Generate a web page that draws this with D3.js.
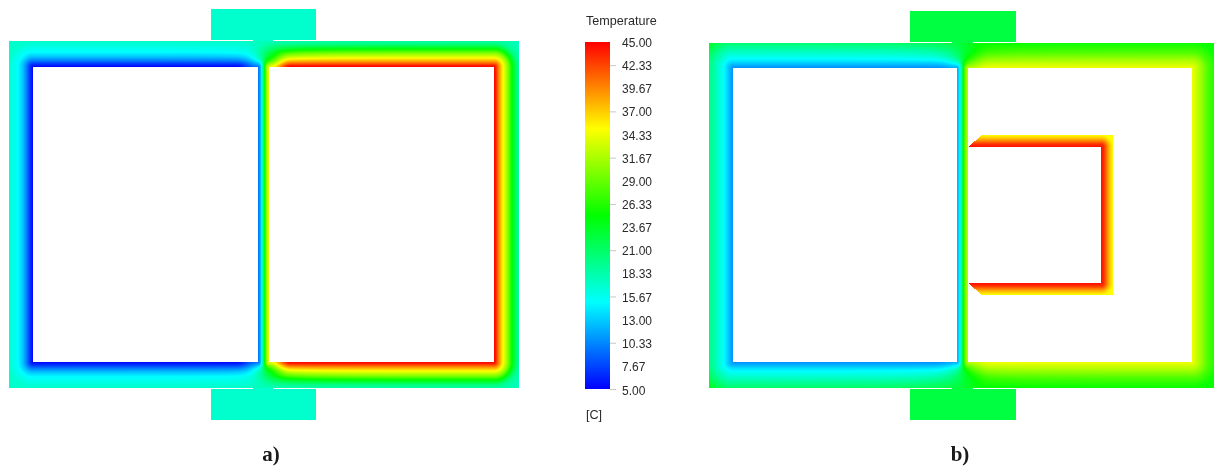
<!DOCTYPE html>
<html><head><meta charset="utf-8">
<script src="https://cdnjs.cloudflare.com/ajax/libs/d3/7.8.5/d3.min.js"></script>
<style>
html,body{margin:0;padding:0;background:#fff;overflow:hidden}
#wrap{position:relative;width:1214px;height:469px}
canvas{position:absolute;left:0;top:0;filter:blur(0.6px)}
svg{position:absolute;left:0;top:0;filter:blur(0.3px)}
</style></head><body><div id="wrap"></div>
<script>
// ---- data ----
const legendTitle = "Temperature";
const legendUnit = "[C]";
const legendLabels = [45.00,42.33,39.67,37.00,34.33,31.67,29.00,26.33,23.67,21.00,18.33,15.67,13.00,10.33,7.67,5.00];
const legendMarked = [42.33,37.00,31.67,26.33,21.00,15.67,10.33,5.00];
const colorTemps = [5,15,25,35,45];
const colorValues = ["#0000ff","#00ffff","#00ff00","#ffff00","#ff0000"];

// temperature vs. distance (px) from a cavity wall
const distA = [0,3,6.5,10,15,20,25,40];
const coldA = [5,7,10,12.5,15,16,17,17];
const distAh = [0,1.5,5,9,14,18,23,25,30,40];
const hotA  = [45,44,39.5,35,30,25,20,19,18,17];
const distB = [0,4,8,12,18,25,35];
const coldB = [10.5,12.5,14.5,16,18,20.5,24];
const distBh = [0,8,16,25,35];
const hotB  = [34.5,31.5,28,25.5,25];
const distBox = [0,3,6,9,12];
const tempBox = [44.5,43,40,37,35];
const tabTempA = 17, tabTempB = 22.5;

// ---- layout ----
const W = 1214, H = 469;
const panels = [
 {name:"a)", labelX:271, outer:[9,41,519,388], left:[33,67,258,362], right:[269,67,494,362],
  tabX:[211,316], tabY:[[9,40],[389,420]], neck:[253,273], base:tabTempA,
  cold:d3.scaleLinear(distA,coldA).clamp(true), hot:d3.scaleLinear(distAh,hotA).clamp(true),
  coldWall:0.62, hotWall:0.6},
 {name:"b)", labelX:960, outer:[709,43,1214,388], left:[733,68,957,362], right:[968,68,1192,362],
  tabX:[910,1016], tabY:[[11,42],[389,420]], neck:[952,973], base:tabTempB,
  cold:d3.scaleLinear(distB,coldB).clamp(true), hot:d3.scaleLinear(distBh,hotB).clamp(true),
  coldWall:0.9, hotWall:0.8,
  box:[968,147,1101,283],
  halo:[[968,147],[982,135],[1113,135],[1113,295],[982,295],[968,283]],
  boxTemp:d3.scaleLinear(distBox,tempBox).clamp(true)}
];

const color = d3.scaleLinear(colorTemps,colorValues).interpolate(d3.interpolateRgb).clamp(true);
const lut = d3.range(0,401).map(i=>d3.rgb(color(5+i/10)));

const rectDist=(r,x,y)=>{const dx=Math.max(r[0]-x,0,x-r[2]),dy=Math.max(r[1]-y,0,y-r[3]);return Math.hypot(dx,dy);};
const inside=(r,x,y)=>x>=r[0]&&x<r[2]&&y>=r[1]&&y<r[3];
const fade=t=>{t=Math.max(0,Math.min(1,t));return t*t*(3-2*t);};

const canvas = d3.select("#wrap").append("canvas").attr("width",W).attr("height",H).node();
const ctx = canvas.getContext("2d");
ctx.fillStyle="#fff";ctx.fillRect(0,0,W,H);
const img = ctx.getImageData(0,0,W,H);

function field(p,x,y){
  const dL=rectDist(p.left,x,y), dR=rectDist(p.right,x,y);
  const fL=p.coldWall+(1-p.coldWall)*fade((dR-11)/22);
  const fR=p.hotWall+(1-p.hotWall)*fade((dL-11)/22);
  const aL=(p.cold(dL)-p.base)*fL, aR=(p.hot(dR)-p.base)*fR;
  const wL=1/Math.pow(dL+0.5,2), wR=1/Math.pow(dR+0.5,2);
  return p.base+(wL*aL+wR*aR)/(wL+wR);
}
function plot(x,y,t){
  const c=lut[Math.round((Math.max(5,Math.min(45,t))-5)*10)], i=(y*W+x)*4;
  img.data[i]=c.r;img.data[i+1]=c.g;img.data[i+2]=c.b;img.data[i+3]=255;
}
panels.forEach(p=>{
  const [x0,y0,x1,y1]=p.outer;
  for(let y=y0;y<y1;y++)for(let x=x0;x<Math.min(x1,W);x++){
    const px=x+.5,py=y+.5;
    if(inside(p.left,px,py))continue;
    if(inside(p.right,px,py)){
      if(p.box&&!inside(p.box,px,py)&&d3.polygonContains(p.halo,[px,py]))
        plot(x,y,p.boxTemp(rectDist(p.box,px,py)));
      continue;
    }
    plot(x,y,field(p,px,py));
  }
  p.tabY.forEach(([a,b])=>{
    for(let y=a;y<b;y++)for(let x=p.tabX[0];x<p.tabX[1];x++)plot(x,y,p.base);
  });
  [y0-1,y1].forEach(y=>{
    for(let x=p.neck[0];x<p.neck[1];x++)plot(x,y,p.base);
  });
});
ctx.putImageData(img,0,0);

// ---- legend and captions ----
const svg=d3.select("#wrap").append("svg").attr("width",W).attr("height",H);
const barX=585,barW=25,barTop=42,barBottom=389;
const y=d3.scaleLinear([5,45],[barBottom,barTop]);
const grad=svg.append("defs").append("linearGradient").attr("id","ramp")
  .attr("x1",0).attr("x2",0).attr("y1",1).attr("y2",0);
grad.selectAll("stop").data(colorTemps).join("stop")
  .attr("offset",d=>(d-5)/40).attr("stop-color",d=>color(d));
svg.append("rect").attr("x",barX).attr("y",barTop).attr("width",barW).attr("height",barBottom-barTop).attr("fill","url(#ramp)");

const axis=d3.axisRight(y).tickValues(legendLabels).tickFormat(d=>d.toFixed(2)).tickSize(6).tickPadding(6);
const g=svg.append("g").attr("transform",`translate(${barX+barW},0)`).call(axis);
g.select(".domain").remove();
g.selectAll(".tick line").attr("stroke","#c8c8c8").attr("stroke-width",1)
  .attr("opacity",d=>legendMarked.includes(d)?1:0);
g.selectAll(".tick text").attr("font-family","'Liberation Sans',Arial,sans-serif").attr("font-size",12).attr("fill","#2a2a2a").attr("dy","0.38em");
g.selectAll(".tick").filter(d=>d===5).select("text").attr("dy","0.45em");

svg.append("text").text(legendTitle).attr("x",586).attr("y",24.5).attr("font-family","'Liberation Sans',Arial,sans-serif").attr("font-size",12.6).attr("fill","#2a2a2a");
svg.append("text").text(legendUnit).attr("x",586).attr("y",419).attr("font-family","'Liberation Sans',Arial,sans-serif").attr("font-size",12.6).attr("fill","#2a2a2a");

svg.selectAll("text.cap").data(panels).join("text").attr("class","cap")
  .text(d=>d.name).attr("x",d=>d.labelX).attr("y",461).attr("text-anchor","middle")
  .attr("font-family","'Liberation Serif','DejaVu Serif',serif").attr("font-weight","bold").attr("font-size",21).attr("fill","#1a1a1a");
</script></body></html>
